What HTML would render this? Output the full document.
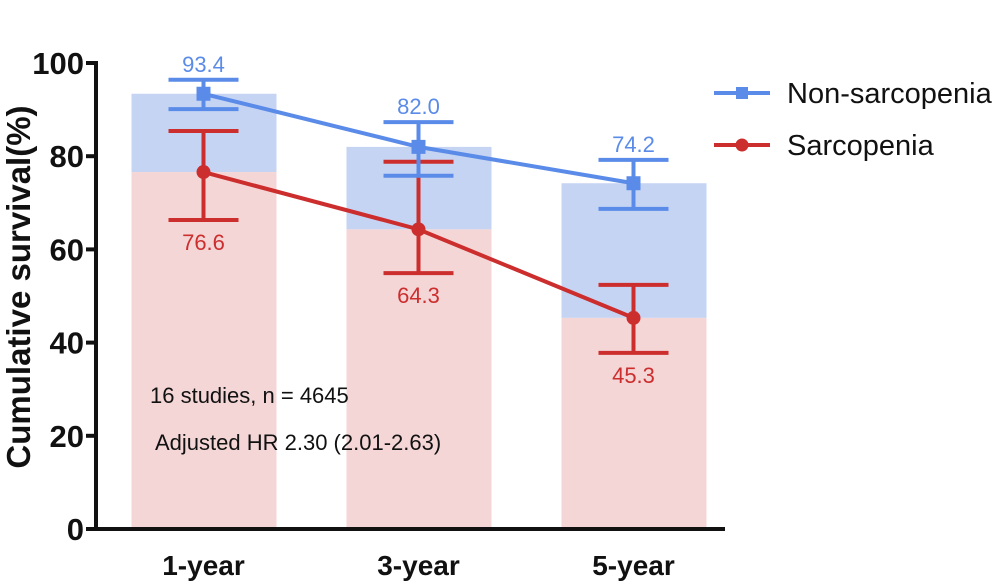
<!DOCTYPE html>
<html><head><meta charset="utf-8"><style>
html,body{margin:0;padding:0;background:#fff;}
svg{display:block;font-family:"Liberation Sans",Arial,sans-serif;}
</style></head><body>
<svg id="chart" width="1000" height="583" viewBox="0 0 1000 583">
<g id="bars"></g>
<g id="axes"></g>
<g id="series"></g>
<text x="150" y="403" font-size="22" fill="#111">16 studies, n = 4645</text>
<text x="155" y="450" font-size="22" fill="#111">Adjusted HR 2.30 (2.01-2.63)</text>
<text transform="translate(30,287) rotate(-90)" text-anchor="middle" font-size="33" font-weight="bold" fill="#111">Cumulative survival(%)</text>
<g>
<g>
<line x1="714" y1="93" x2="770" y2="93" stroke="#5b8be8" stroke-width="4"/>
<rect x="736" y="87" width="12" height="12" fill="#5b8be8"/>
<text x="787" y="103" font-size="29" fill="#111">Non-sarcopenia</text></g>
<g>
<line x1="714" y1="145" x2="770" y2="145" stroke="#cc2e2e" stroke-width="4"/>
<circle cx="742" cy="145" r="6.5" fill="#cc2e2e"/>
<text x="787" y="155" font-size="29" fill="#111">Sarcopenia</text></g>
</g>
</svg>
<script>
const categories=["1-year","3-year","5-year"];
const nonSarc=[93.4,82.0,74.2];
const nonSarcHi=[96.4,87.3,79.2];
const nonSarcLo=[90.1,75.8,68.7];
const sarc=[76.6,64.3,45.3];
const sarcHi=[85.4,78.8,52.4];
const sarcLo=[66.3,54.9,37.8];
const yTicks=[0,20,40,60,80,100];
const NS="http://www.w3.org/2000/svg";
const y=v=>529-v*4.66;
const x=i=>203.5+i*215;
function mk(parent,tag,attrs){const e=document.createElementNS(NS,tag);for(const k in attrs)e.setAttribute(k,attrs[k]);document.getElementById(parent).appendChild(e);return e;}
const BLUE="#5b8be8",RED="#cc2e2e";
categories.forEach((c,i)=>{
 let b=mk("bars","rect",{x:x(i)-72,y:y(nonSarc[i]),width:145,height:y(sarc[i])-y(nonSarc[i]),fill:"#c6d4f3"});
 
 
 let r=mk("bars","rect",{x:x(i)-72,y:y(sarc[i]),width:145,height:y(0)-y(sarc[i]),fill:"#f5d6d7"});
 
 
 let t=mk("axes","text",{x:x(i),y:575,"text-anchor":"middle","font-size":"28","font-weight":"bold",fill:"#111"});
 t.textContent=c;
 
 
});
mk("axes","line",{x1:96,y1:y(100)-2,x2:96,y2:y(0)+2,stroke:"#111","stroke-width":4});
mk("axes","line",{x1:94,y1:y(0),x2:725,y2:y(0),stroke:"#111","stroke-width":4});
yTicks.forEach(v=>{
 mk("axes","line",{x1:86,y1:y(v),x2:96,y2:y(v),stroke:"#111","stroke-width":4});
 let t=mk("axes","text",{x:84,y:y(v)+11,"text-anchor":"end","font-size":"31","font-weight":"bold",fill:"#111"});
 t.textContent=v;
 
 
});
function series(vals,hi,lo,col,name,square,labelAbove){
 let pts=vals.map((v,i)=>x(i)+","+y(v)).join(" ");
 let pl=mk("series","polyline",{points:pts,fill:"none",stroke:col,"stroke-width":4});
 
 
 vals.forEach((v,i)=>{
  let cx=x(i);
  mk("series","line",{x1:cx,y1:y(hi[i]),x2:cx,y2:y(lo[i]),stroke:col,"stroke-width":4});
  mk("series","line",{x1:cx-35,y1:y(hi[i]),x2:cx+35,y2:y(hi[i]),stroke:col,"stroke-width":4});
  mk("series","line",{x1:cx-35,y1:y(lo[i]),x2:cx+35,y2:y(lo[i]),stroke:col,"stroke-width":4});
  let m=square?mk("series","rect",{x:cx-7,y:y(v)-7,width:14,height:14,fill:col}):mk("series","circle",{cx:cx,cy:y(v),r:7,fill:col});
  
  
  let ty=labelAbove?y(hi[i])-8:y(lo[i])+30;
  let t=mk("series","text",{x:cx,y:ty,"text-anchor":"middle","font-size":"22",fill:col});
  t.textContent=v.toFixed(1);
  
  
 });
}
series(sarc,sarcHi,sarcLo,RED,"sarcopenia",false,false);
series(nonSarc,nonSarcHi,nonSarcLo,BLUE,"non-sarcopenia",true,true);
</script>
</body></html>
